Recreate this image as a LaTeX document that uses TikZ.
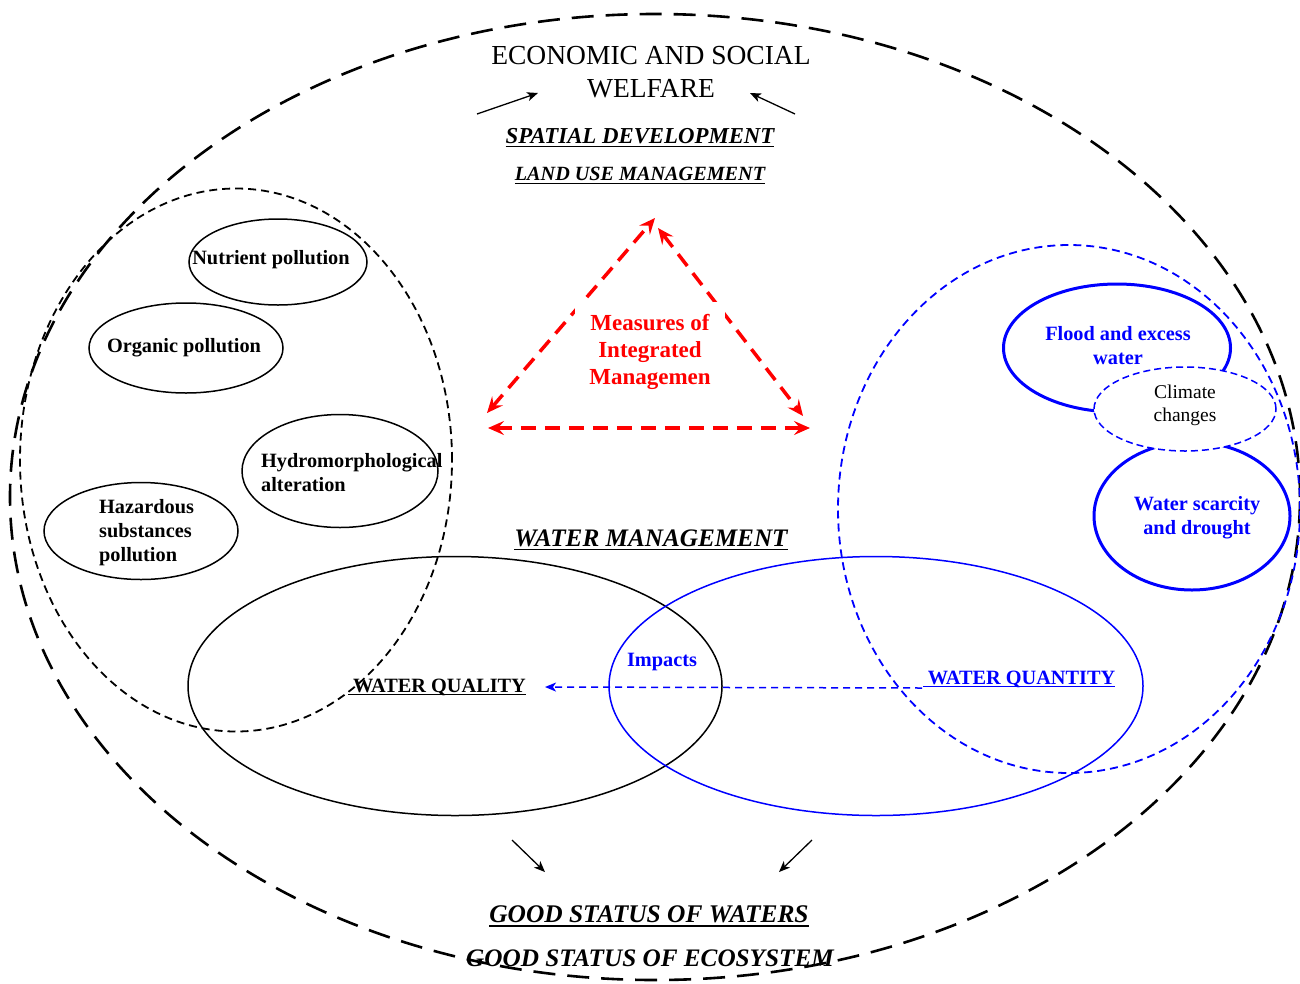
\documentclass[tikz,border=0pt]{standalone}
\usepackage{fontspec}
\setmainfont{Liberation Serif}
\usetikzlibrary{shapes.geometric,arrows.meta}
\definecolor{bl}{RGB}{0,0,255}
\definecolor{rd}{RGB}{255,0,0}
\newcommand\myul[1]{\leavevmode\setbox0\hbox{#1}\rlap{\rule[-0.17em]{\wd0}{0.075em}}\box0}
\tikzset{
  ell/.style={ellipse, draw, inner sep=0pt, outer sep=0pt},
  thinell/.style={ell, line width=1.5pt},
  thickblue/.style={ell, draw=bl, line width=3pt},
  bigdash/.style={dash pattern=on 8pt off 5pt, line width=1.8pt},
  txt/.style={inner sep=0pt, align=center, font=\fontsize{20.3}{24}\selectfont\bfseries},
  blackarrow/.style={line width=1.3pt, -{Stealth[length=11pt,width=9pt,inset=3pt]}},
  redarrow/.style={draw=rd, line width=3.5pt, dash pattern=on 15pt off 9pt,
     {Stealth[length=16pt,width=14pt,inset=6pt]}-{Stealth[length=16pt,width=14pt,inset=6pt]}},
}
\begin{document}
\begin{tikzpicture}[x=1pt,y=-1pt]
\useasboundingbox (0,0) rectangle (1300,983);
% big ellipses
\node[ell, minimum width=1290pt, minimum height=966pt, line width=2.6pt, dash pattern=on 22pt off 12pt] (outer) at (655,497) {};
\node[ell, minimum width=432pt, minimum height=543pt, bigdash] (leftzone) at (236,460) {};
\node[ell, draw=bl, minimum width=462pt, minimum height=528pt, bigdash] (rightzone) at (1069,509) {};
\node[thinell, minimum width=534pt, minimum height=259pt] (quality) at (455,686) {};
\node[thinell, draw=bl, minimum width=534pt, minimum height=259pt] (quantity) at (876,686) {};
% pollution ellipses
\node[thinell, minimum width=178pt, minimum height=86pt] (nutrient) at (278,262) {};
\node[thinell, minimum width=194pt, minimum height=90pt] (organic) at (186,348) {};
\node[thinell, minimum width=196pt, minimum height=113pt] (hydro) at (340,471) {};
\node[thinell, minimum width=194pt, minimum height=97pt] (hazard) at (141,531) {};
% climate group
\node[thickblue, minimum width=227pt, minimum height=128pt] (flood) at (1117,348) {};
\node[thickblue, minimum width=196pt, minimum height=148pt] (scarcity) at (1192,516) {};
\node[ell, draw=bl, fill=white, line width=1.5pt, dash pattern=on 7pt off 4pt, minimum width=182pt, minimum height=84pt] (climate) at (1185,409) {};
% red triangle
\coordinate (apexL) at (655,218);
\coordinate (apexR) at (658,228);
\coordinate (leftA) at (487,413);
\coordinate (rightA) at (803,416);
\coordinate (leftB) at (488,428);
\coordinate (rightB) at (810,428);
\draw[redarrow] (leftA) -- (apexL);
\draw[redarrow] (apexR) -- (rightA);
\draw[redarrow] (leftB) -- (rightB);
\node[txt, text=rd, fill=white, font=\fontsize{23}{27}\selectfont\bfseries, minimum width=150pt, minimum height=100pt] (measures) at (650,352) {Measures of\\Integrated\\Managemen};
% black arrows
\coordinate (a1s) at (477,114); \coordinate (a1e) at (538,93);
\coordinate (a2s) at (795,114); \coordinate (a2e) at (750,93);
\coordinate (a3s) at (512,840); \coordinate (a3e) at (545,872);
\coordinate (a4s) at (812,840); \coordinate (a4e) at (779,872);
\draw[blackarrow] (a1s) -- (a1e);
\draw[blackarrow] (a2s) -- (a2e);
\draw[blackarrow] (a3s) -- (a3e);
\draw[blackarrow] (a4s) -- (a4e);
% impacts arrow
\coordinate (imps) at (922,688);
\coordinate (impe) at (545,687);
\draw[draw=bl, line width=1.5pt, dash pattern=on 7pt off 5pt, -{Stealth[length=11pt,width=9pt,inset=3pt]}] (imps) -- (impe);
% texts
\node[inner sep=0pt, align=center, font=\fontsize{27.5}{33}\selectfont] (welfare) at (651,72) {ECONOMIC AND SOCIAL\\WELFARE};
\node[txt, font=\fontsize{22.8}{27}\selectfont\bfseries\itshape] (spatial) at (640,138) {\myul{SPATIAL DEVELOPMENT}};
\node[txt, font=\fontsize{20.2}{24}\selectfont\bfseries\itshape] (landuse) at (640,176) {\myul{LAND USE MANAGEMENT}};
\node[txt, font=\fontsize{25.2}{29}\selectfont\bfseries\itshape] (wm) at (651,540) {\myul{WATER MANAGEMENT}};
\node[txt] (wq) at (437,687) {\myul{\ WATER QUALITY}};
\node[txt, text=bl] (wqt) at (1019,679) {\myul{\ WATER QUANTITY}};
\node[txt, text=bl] (impacts) at (662,662) {Impacts};
\node[txt] (tnut) at (271,260) {Nutrient pollution};
\node[txt] (torg) at (184,348) {Organic pollution};
\node[txt, align=left, anchor=west] (thyd) at (261,473) {Hydromorphological\\alteration};
\node[txt, align=left, anchor=west] (thaz) at (99,533) {Hazardous\\substances\\pollution};
\node[txt, text=bl] (tflood) at (1118,346) {Flood and excess\\water};
\node[txt, font=\fontsize{19.5}{23}\selectfont] (tclim) at (1185,405) {Climate\\changes};
\node[txt, text=bl] (tscar) at (1197,518) {Water scarcity\\and drought};
\node[txt, font=\fontsize{25.4}{29}\selectfont\bfseries\itshape] (gsw) at (649,916) {\myul{GOOD STATUS OF WATERS}};
\node[txt, font=\fontsize{25.2}{29}\selectfont\bfseries\itshape] (gse) at (650,958) {GOOD STATUS OF ECOSYSTEM};
\end{tikzpicture}
\end{document}
